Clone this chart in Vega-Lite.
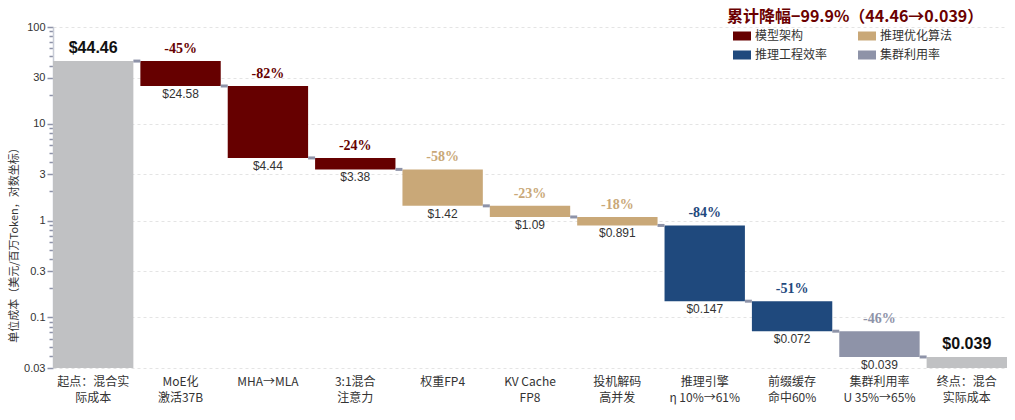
{
  "$schema": "https://vega.github.io/schema/vega-lite/v6.json",
  "description": "Waterfall of unit cost per million tokens, log scale",
  "width": 954,
  "height": 341,
  "autosize": "none",
  "padding": {"left": 53, "top": 27, "right": 8, "bottom": 52},
  "title": {
    "text": "累计降幅−99.9%（44.46→0.039）",
    "anchor": "start",
    "frame": "group",
    "dx": 674,
    "dy": 9,
    "offset": 5,
    "font": "Noto Sans CJK SC",
    "fontSize": 16,
    "fontWeight": "bold",
    "color": "#6b0000"
  },
  "config": {
    "view": {"stroke": null},
    "font": "Liberation Sans"
  },
  "datasets": {
    "steps": [
      {"step": "起点：混合实|际成本", "lo": 0.03, "hi": 44.46, "grp": "起止", "pct": null, "low_txt": null, "top_txt": "$44.46"},
      {"step": "MoE化|激活37B", "lo": 24.58, "hi": 44.46, "grp": "模型架构", "pct": "-45%", "low_txt": "$24.58", "top_txt": null},
      {"step": "MHA→MLA", "lo": 4.44, "hi": 24.58, "grp": "模型架构", "pct": "-82%", "low_txt": "$4.44", "top_txt": null},
      {"step": "3:1混合|注意力", "lo": 3.38, "hi": 4.44, "grp": "模型架构", "pct": "-24%", "low_txt": "$3.38", "top_txt": null},
      {"step": "权重FP4", "lo": 1.42, "hi": 3.38, "grp": "推理优化算法", "pct": "-58%", "low_txt": "$1.42", "top_txt": null},
      {"step": "KV Cache|FP8", "lo": 1.09, "hi": 1.42, "grp": "推理优化算法", "pct": "-23%", "low_txt": "$1.09", "top_txt": null},
      {"step": "投机解码|高并发", "lo": 0.891, "hi": 1.09, "grp": "推理优化算法", "pct": "-18%", "low_txt": "$0.891", "top_txt": null},
      {"step": "推理引擎|η 10%→61%", "lo": 0.147, "hi": 0.891, "grp": "推理工程效率", "pct": "-84%", "low_txt": "$0.147", "top_txt": null},
      {"step": "前缀缓存|命中60%", "lo": 0.072, "hi": 0.147, "grp": "推理工程效率", "pct": "-51%", "low_txt": "$0.072", "top_txt": null},
      {"step": "集群利用率|U 35%→65%", "lo": 0.039, "hi": 0.072, "grp": "集群利用率", "pct": "-46%", "low_txt": "$0.039", "top_txt": null},
      {"step": "终点：混合|实际成本", "lo": 0.03, "hi": 0.039, "grp": "起止", "pct": null, "low_txt": null, "top_txt": "$0.039"}
    ],
    "links": [
      {"from": "起点：混合实|际成本", "to": "MoE化|激活37B", "level": 44.46},
      {"from": "MoE化|激活37B", "to": "MHA→MLA", "level": 24.58},
      {"from": "MHA→MLA", "to": "3:1混合|注意力", "level": 4.44},
      {"from": "3:1混合|注意力", "to": "权重FP4", "level": 3.38},
      {"from": "权重FP4", "to": "KV Cache|FP8", "level": 1.42},
      {"from": "KV Cache|FP8", "to": "投机解码|高并发", "level": 1.09},
      {"from": "投机解码|高并发", "to": "推理引擎|η 10%→61%", "level": 0.891},
      {"from": "推理引擎|η 10%→61%", "to": "前缀缓存|命中60%", "level": 0.147},
      {"from": "前缀缓存|命中60%", "to": "集群利用率|U 35%→65%", "level": 0.072},
      {"from": "集群利用率|U 35%→65%", "to": "终点：混合|实际成本", "level": 0.039}
    ]
  },
  "layer": [
    {
      "data": {"name": "steps"},
      "mark": {"type": "bar"},
      "encoding": {
        "x": {
          "field": "step",
          "type": "nominal",
          "sort": null,
          "title": null,
          "scale": {"paddingInner": 0.08, "paddingOuter": 0},
          "axis": {
            "domain": false,
            "ticks": false,
            "labelAngle": 0,
            "labelPadding": 8,
            "labelExpr": "split(datum.label, '|')",
            "labelFont": "Noto Sans CJK SC",
            "labelFontSize": 12,
            "labelLineHeight": 16,
            "labelColor": "#333333"
          }
        },
        "y": {
          "field": "lo",
          "type": "quantitative",
          "title": "单位成本（美元/百万Token，对数坐标）",
          "scale": {"type": "log", "domain": [0.03, 100], "nice": false, "clamp": true},
          "axis": {
            "values": [0.03, 0.04, 0.05, 0.06, 0.07, 0.08, 0.09, 0.1, 0.2, 0.3, 0.4, 0.5, 0.6, 0.7, 0.8, 0.9, 1, 2, 3, 4, 5, 6, 7, 8, 9, 10, 20, 30, 40, 50, 60, 70, 80, 90, 100],
            "format": "~g",
            "labelExpr": "indexof([0.03, 0.1, 0.3, 1, 3, 10, 30, 100], datum.value) >= 0 ? datum.label : ''",
            "labelFontSize": 11,
            "labelColor": "#333333",
            "labelPadding": 2,
            "domainColor": "#c8ccd6",
            "domainWidth": 1.5,
            "tickColor": "#8e93a8",
            "tickWidth": 1.5,
            "tickSize": {"condition": {"test": "indexof([0.03, 0.1, 0.3, 1, 3, 10, 30, 100], datum.value) >= 0", "value": 6}, "value": 4},
            "grid": true,
            "gridColor": "#e4e4e4",
            "gridDash": [3, 3],
            "gridOpacity": {"condition": {"test": "indexof([0.03, 0.1, 0.3, 1, 3, 10, 30, 100], datum.value) >= 0", "value": 1}, "value": 0},
            "titleFont": "Noto Sans CJK SC",
            "titleFontSize": 11,
            "titleFontWeight": "normal",
            "titleColor": "#333333",
            "titlePadding": 4,
            "titleY": 215
          }
        },
        "y2": {"field": "hi"},
        "color": {
          "field": "grp",
          "type": "nominal",
          "scale": {
            "domain": ["模型架构", "推理优化算法", "推理工程效率", "集群利用率", "起止"],
            "range": ["#660000", "#c9a878", "#1f497d", "#8e93a8", "#c0c1c3"]
          },
          "legend": {
            "values": ["模型架构", "推理优化算法", "推理工程效率", "集群利用率"],
            "title": null,
            "orient": "none",
            "direction": "horizontal",
            "legendX": 680,
            "legendY": 0,
            "columns": 2,
            "columnPadding": 30,
            "rowPadding": 4,
            "padding": 0,
            "symbolType": "M-1,-0.5H1V0.5H-1Z",
            "symbolSize": 324,
            "symbolStrokeWidth": 0,
            "symbolOpacity": 1,
            "labelOffset": 4,
            "labelFont": "Noto Sans CJK SC",
            "labelFontSize": 12,
            "labelColor": "#333333"
          }
        }
      }
    },
    {
      "data": {"name": "links"},
      "mark": {"type": "rule", "color": "#8e93a8", "strokeWidth": 3},
      "encoding": {
        "x": {"field": "from", "type": "nominal", "sort": null, "bandPosition": 1},
        "x2": {"field": "to", "bandPosition": 0},
        "y": {"field": "level", "type": "quantitative"}
      }
    },
    {
      "data": {"name": "steps"},
      "transform": [{"filter": "datum.pct != null"}],
      "mark": {"type": "text", "baseline": "bottom", "dy": -5, "font": "Liberation Serif", "fontSize": 14, "fontWeight": "bold"},
      "encoding": {
        "x": {"field": "step", "type": "nominal", "sort": null},
        "y": {"field": "hi", "type": "quantitative"},
        "text": {"field": "pct"},
        "color": {"field": "grp", "type": "nominal", "legend": null}
      }
    },
    {
      "data": {"name": "steps"},
      "transform": [{"filter": "datum.low_txt != null"}],
      "mark": {"type": "text", "baseline": "top", "dy": 3, "fontSize": 12, "color": "#333333"},
      "encoding": {
        "x": {"field": "step", "type": "nominal", "sort": null},
        "y": {"field": "lo", "type": "quantitative"},
        "text": {"field": "low_txt"}
      }
    },
    {
      "data": {"name": "steps"},
      "transform": [{"filter": "datum.top_txt != null"}],
      "mark": {"type": "text", "baseline": "bottom", "dy": -5, "fontSize": 16, "fontWeight": "bold", "color": "#111111"},
      "encoding": {
        "x": {"field": "step", "type": "nominal", "sort": null},
        "y": {"field": "hi", "type": "quantitative"},
        "text": {"field": "top_txt"}
      }
    }
  ]
}
